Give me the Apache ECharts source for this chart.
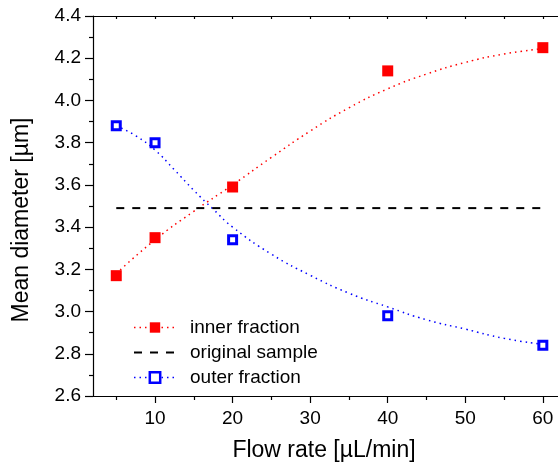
<!DOCTYPE html>
<html><head><meta charset="utf-8">
<script src="https://cdn.jsdelivr.net/npm/echarts@6/dist/echarts.min.js"></script>
<style>html,body{margin:0;padding:0;background:#fff;overflow:hidden}#c{width:558px;height:466px}</style>
</head><body><div id="c"></div>
<script>
// ---- data ----
const flowRate = [5, 10, 20, 40, 60];
const innerFraction = [3.17, 3.35, 3.59, 4.14, 4.25];
const outerFraction = [3.88, 3.80, 3.34, 2.98, 2.84];
const originalX = [5, 60];
const originalY = [3.49, 3.49];
const innerFitX = [5, 10, 15, 20, 25, 30, 35, 40, 45, 50, 55, 60];
const innerFitY = [3.18, 3.34, 3.475, 3.60, 3.73, 3.855, 3.965, 4.055, 4.125, 4.18, 4.22, 4.245];
const outerFitX = [5, 7.5, 10, 12.5, 15, 17.5, 20, 25, 30, 35, 40, 45, 50, 55, 60];
const outerFitY = [3.88, 3.833, 3.765, 3.671, 3.574, 3.485, 3.40, 3.272, 3.172, 3.087, 3.022, 2.961, 2.917, 2.873, 2.845];
const xTickLabels = [10, 20, 30, 40, 50, 60];
const xMinorTicks = [5, 15, 25, 35, 45, 55];
const xTopTicks = [5, 10, 15, 20, 25, 30, 35, 40, 45, 50, 55, 60];

const FONT = '"Liberation Sans", Arial, sans-serif';
const pairs = (xs, ys) => xs.map((x, i) => [x, ys[i]]);
const AX = {color: '#000', width: 1.2};
const X_MIN = 2, X_MAX = 62.6;
const chart = echarts.init(document.getElementById('c'), null, {renderer: 'canvas'});
chart.setOption({
  animation: false,
  textStyle: {fontFamily: FONT},
  grid: {left: 93, top: 16, width: 470, height: 380, outerBoundsMode: 'none', containLabel: false},
  legend: {
    orient: 'vertical', left: 133, top: 318, padding: 0,
    itemWidth: 42, itemHeight: 13, itemGap: 6,
    textStyle: {fontSize: 19, color: '#000', fontFamily: FONT, padding: [0, 0, 0, 9]},
    data: [
      {name: 'inner fraction', lineStyle: {color: '#ff0000', width: 1.5, type: [1.5, 4], opacity: 1}},
      {name: 'original sample', itemStyle: {opacity: 0}},
      {name: 'outer fraction', lineStyle: {color: '#0000ff', width: 1.5, type: [1.5, 4], opacity: 1}, itemStyle: {borderWidth: 2.5}}
    ]
  },
  xAxis: [
    {type: 'value', position: 'bottom', min: X_MIN, max: X_MAX,
      axisLine: {show: true, lineStyle: AX},
      axisTick: {show: true, customValues: xTickLabels, length: 7, lineStyle: AX},
      axisLabel: {customValues: xTickLabels, margin: 13, fontSize: 19, color: '#000', fontFamily: FONT},
      splitLine: {show: false},
      name: 'Flow rate [µL/min]', nameLocation: 'middle', nameGap: 43,
      nameTextStyle: {fontSize: 23, color: '#000', fontFamily: FONT, padding: [0, 8, 0, 0]}},
    {type: 'value', position: 'top', min: X_MIN, max: X_MAX,
      axisLine: {show: true, lineStyle: AX},
      axisTick: {show: true, inside: true, customValues: xTopTicks, length: 3, lineStyle: AX},
      axisLabel: {show: false}, splitLine: {show: false}},
    {type: 'value', position: 'bottom', min: X_MIN, max: X_MAX,
      axisLine: {show: false},
      axisTick: {show: true, customValues: xMinorTicks, length: 4, lineStyle: AX},
      axisLabel: {show: false}, splitLine: {show: false}}
  ],
  yAxis: {type: 'value', min: 2.6, max: 4.4, interval: 0.2,
    axisLine: {show: true, lineStyle: AX},
    axisTick: {show: true, length: 8, lineStyle: AX},
    minorTick: {show: true, splitNumber: 2, length: 4, lineStyle: AX},
    axisLabel: {formatter: v => v.toFixed(1), margin: 12, fontSize: 19, color: '#000', fontFamily: FONT},
    splitLine: {show: false},
    name: 'Mean diameter [µm]', nameLocation: 'middle', nameGap: 60,
    nameTextStyle: {fontSize: 23, color: '#000', fontFamily: FONT, padding: [0, 28, 0, 0]}},
  series: [
    {name: 'inner fit', type: 'line', data: pairs(innerFitX, innerFitY),
      smooth: true, symbol: 'none', silent: true, z: 2,
      lineStyle: {color: '#ff0000', width: 1.5, type: [1.5, 4]}},
    {name: 'outer fit', type: 'line', data: pairs(outerFitX, outerFitY),
      smooth: true, symbol: 'none', silent: true, z: 2,
      lineStyle: {color: '#0000ff', width: 1.5, type: [1.5, 4]}},
    {name: 'original sample', type: 'line', data: pairs(originalX, originalY),
      symbol: 'none', z: 3, itemStyle: {color: '#000'},
      lineStyle: {color: '#000', width: 2, type: [8, 8]}},
    {name: 'inner fraction', type: 'line', data: pairs(flowRate, innerFraction),
      symbol: 'rect', symbolSize: 11, showSymbol: true, z: 5,
      itemStyle: {color: '#ff0000'}, lineStyle: {color: '#ff0000', opacity: 0}},
    {name: 'outer fraction', type: 'line', data: pairs(flowRate, outerFraction),
      symbol: 'rect', symbolSize: 8, showSymbol: true, z: 5,
      itemStyle: {color: '#ffffff', borderColor: '#0000ff', borderWidth: 3}, lineStyle: {color: '#0000ff', opacity: 0}}
  ]
});
</script></body></html>
